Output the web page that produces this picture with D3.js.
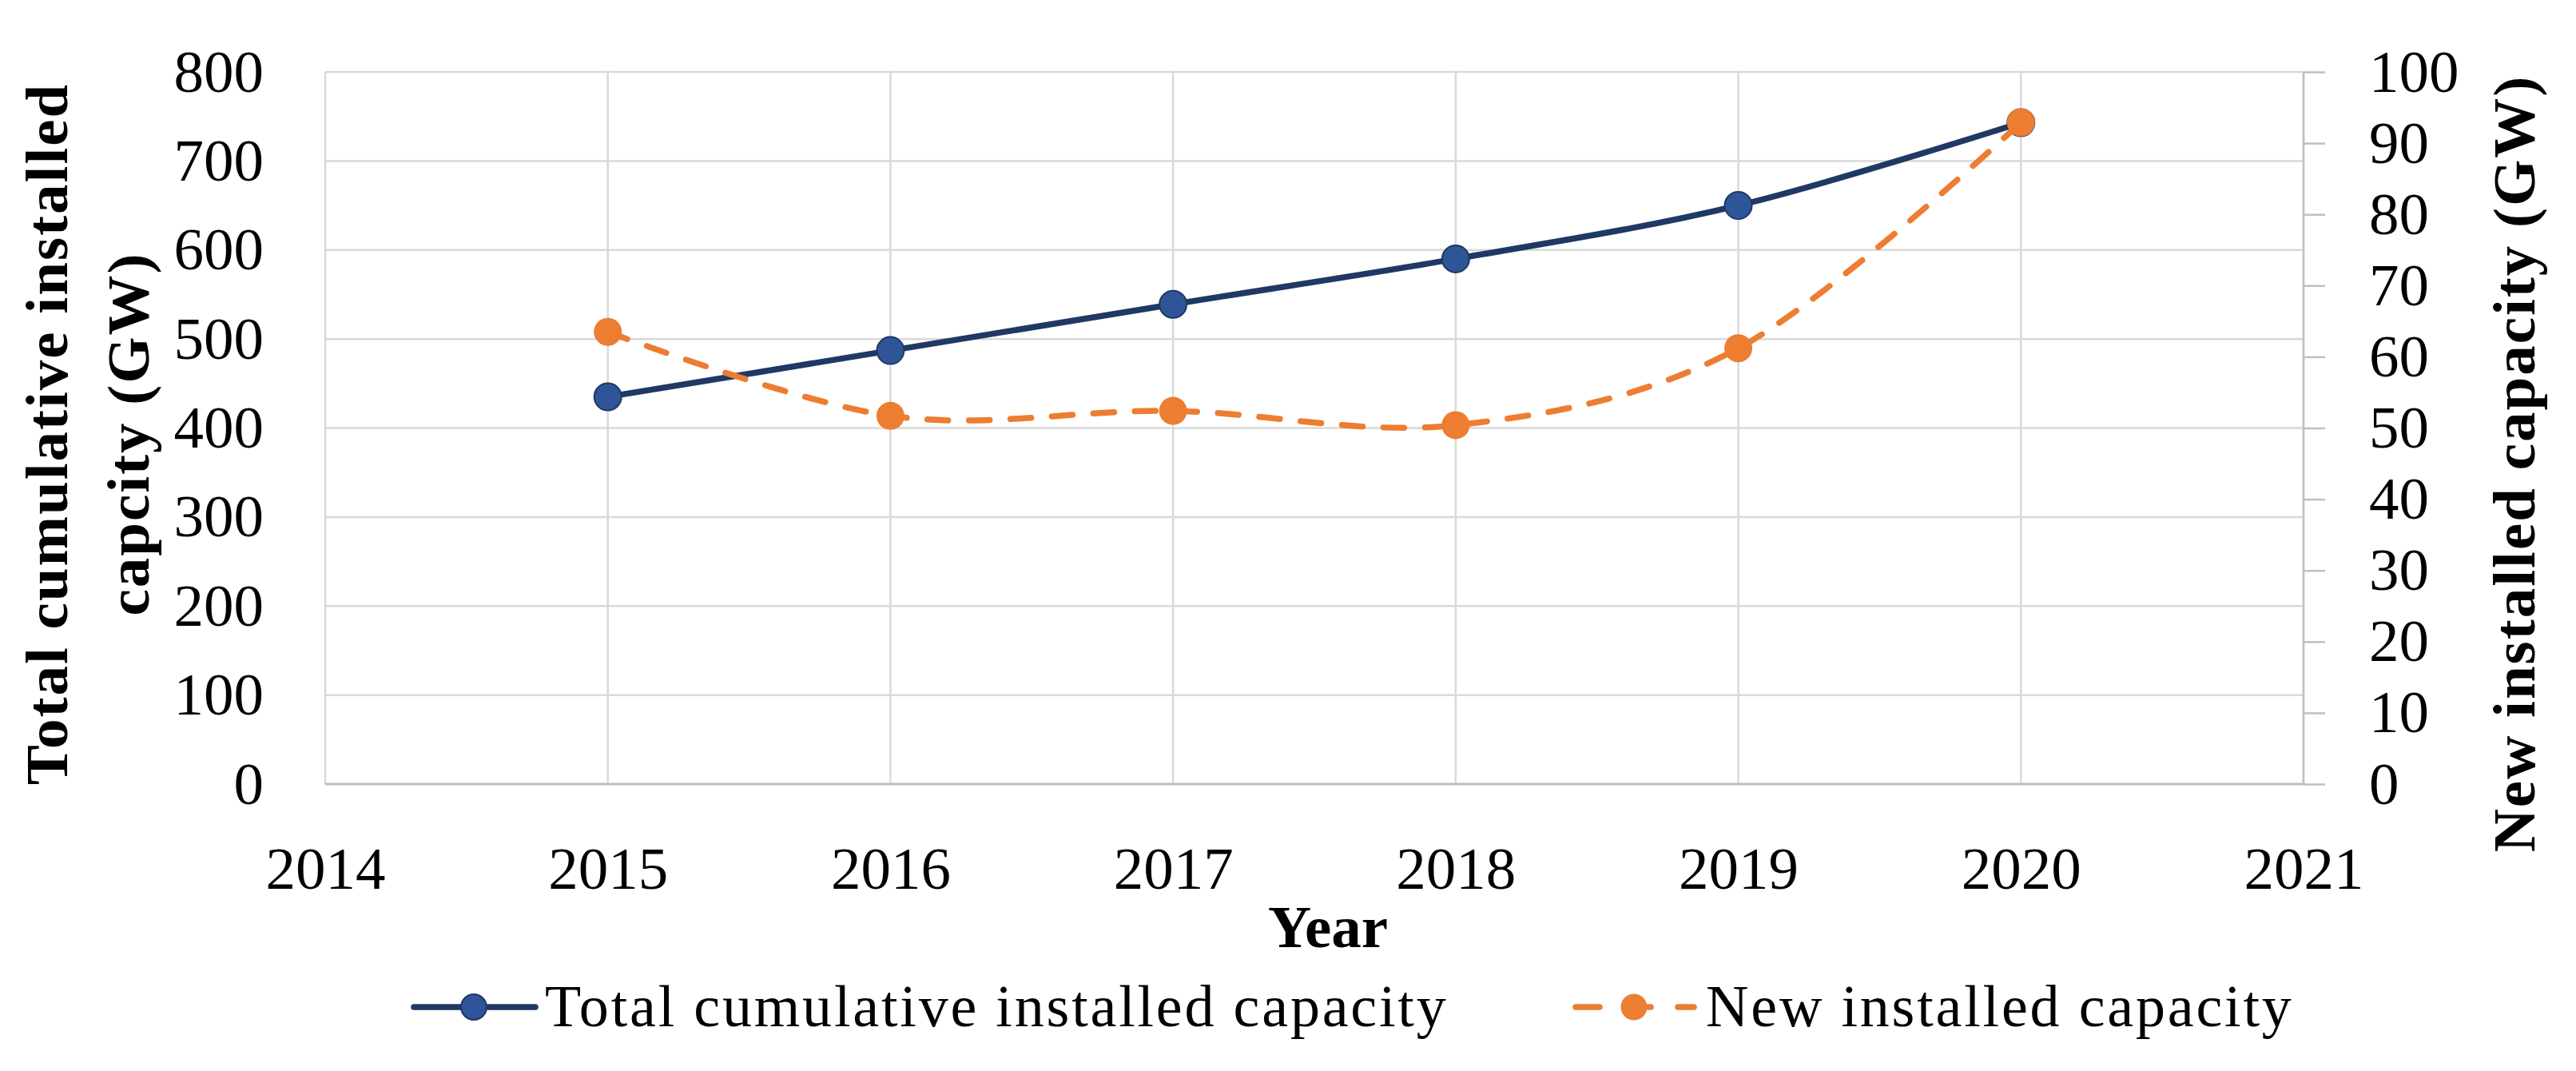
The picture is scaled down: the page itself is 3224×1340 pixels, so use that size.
<!DOCTYPE html>
<html>
<head>
<meta charset="utf-8">
<script src="https://cdn.jsdelivr.net/npm/d3@7"></script>
<style>
  html, body { margin: 0; padding: 0; background: #ffffff; }
  svg { display: block; }
  text { font-family: "Liberation Serif", "Times New Roman", serif; fill: #000; }
</style>
</head>
<body>
<svg id="chart" width="3224" height="1340"></svg>
<script>
// ---- data ----
const years = [2015, 2016, 2017, 2018, 2019, 2020];
const cumulativeGW = [435, 487, 539, 590, 650, 743];
const newGW = [63.5, 51.7, 52.4, 50.4, 61.2, 92.9];
const xTicks = [2014, 2015, 2016, 2017, 2018, 2019, 2020, 2021];
const leftTicks = [0, 100, 200, 300, 400, 500, 600, 700, 800];
const rightTicks = [0, 10, 20, 30, 40, 50, 60, 70, 80, 90, 100];
const seriesNames = ["Total cumulative installed capacity", "New installed capacity"];
const leftTitle = ["Total cumulative installed", "capcity (GW)"];
const rightTitle = "New installed capacity (GW)";
const xTitle = "Year";

// ---- layout ----
const L = 407, R = 2883, T = 90, B = 981;
const FS = 75;
const blueLine = "#203864", blueFill = "#2E5597", orange = "#ED7D31";
const gridCol = "#d9d9d9", axisCol = "#bfbfbf";

const svg = d3.select("#chart");
svg.append("rect").attr("width", 3224).attr("height", 1340).attr("fill", "#fff");

const x = d3.scaleLinear().domain([2014, 2021]).range([L, R]);
const yL = d3.scaleLinear().domain([0, 800]).range([B, T]);
const yR = d3.scaleLinear().domain([0, 100]).range([B, T]);

// gridlines
const grid = svg.append("g");
grid.selectAll("line.h").data(leftTicks).join("line")
  .attr("x1", L).attr("x2", R)
  .attr("y1", d => yL(d)).attr("y2", d => yL(d))
  .attr("stroke", gridCol).attr("stroke-width", 2.5);
grid.selectAll("line.v").data(xTicks).join("line")
  .attr("x1", d => x(d)).attr("x2", d => x(d))
  .attr("y1", T).attr("y2", B)
  .attr("stroke", gridCol).attr("stroke-width", 2.5);
// bottom axis line and right axis line
svg.append("line").attr("x1", L).attr("x2", R).attr("y1", B).attr("y2", B)
  .attr("stroke", axisCol).attr("stroke-width", 3);
svg.append("line").attr("x1", R).attr("x2", R).attr("y1", T).attr("y2", B)
  .attr("stroke", axisCol).attr("stroke-width", 2.5);

// left axis
const gL = svg.append("g").attr("transform", `translate(${L},0)`)
  .call(d3.axisLeft(yL).tickValues(leftTicks).tickSize(0).tickPadding(77));
gL.select(".domain").remove();
gL.selectAll("text").attr("font-size", FS).attr("font-family", "Liberation Serif");

// right axis
const gR = svg.append("g").attr("transform", `translate(${R},0)`)
  .call(d3.axisRight(yR).tickValues(rightTicks).tickSize(27).tickPadding(55));
gR.select(".domain").remove();
gR.selectAll("line").attr("stroke", axisCol).attr("stroke-width", 2.5);
gR.selectAll("text").attr("font-size", FS).attr("font-family", "Liberation Serif");

// bottom axis
const gB = svg.append("g").attr("transform", `translate(0,${B})`)
  .call(d3.axisBottom(x).tickValues(xTicks).tickFormat(d3.format("d")).tickSize(0).tickPadding(78));
gB.select(".domain").remove();
gB.selectAll("text").attr("font-size", FS).attr("font-family", "Liberation Serif");

// axis titles
const titleStyle = sel => sel.attr("font-size", 75).attr("font-weight", "bold")
  .attr("letter-spacing", 2).attr("text-anchor", "middle");
svg.append("text").attr("transform", "translate(84,543) rotate(-90)").text(leftTitle[0]).call(titleStyle);
svg.append("text").attr("transform", "translate(186,543) rotate(-90)").text(leftTitle[1]).call(titleStyle);
svg.append("text").attr("transform", "translate(3172,580) rotate(-90)").text(rightTitle).call(titleStyle);
svg.append("text").attr("x", 1662).attr("y", 1185).text(xTitle).call(titleStyle).attr("letter-spacing", 0);

// lines
const curve = d3.curveCardinal.tension(0);
const lineL = d3.line().x((d, i) => x(years[i])).y(d => yL(d)).curve(curve);
const lineR = d3.line().x((d, i) => x(years[i])).y(d => yR(d)).curve(curve);

svg.append("path").datum(cumulativeGW).attr("d", lineL)
  .attr("fill", "none").attr("stroke", blueLine).attr("stroke-width", 7.5);
svg.selectAll("circle.blue").data(cumulativeGW).join("circle")
  .attr("cx", (d, i) => x(years[i])).attr("cy", d => yL(d)).attr("r", 17)
  .attr("fill", blueFill).attr("stroke", blueLine).attr("stroke-width", 2);

svg.append("path").datum(newGW).attr("d", lineR)
  .attr("fill", "none").attr("stroke", orange).attr("stroke-width", 7.5)
  .attr("stroke-dasharray", "26,26").attr("stroke-linecap", "round");
svg.selectAll("circle.orange").data(newGW).join("circle")
  .attr("cx", (d, i) => x(years[i])).attr("cy", d => yR(d)).attr("r", 17.5)
  .attr("fill", orange);

// legend
const LY = 1260;
const leg = svg.append("g");
leg.append("line").attr("x1", 518).attr("x2", 670).attr("y1", LY).attr("y2", LY)
  .attr("stroke", blueLine).attr("stroke-width", 7.5).attr("stroke-linecap", "round");
leg.append("circle").attr("cx", 593).attr("cy", LY).attr("r", 16)
  .attr("fill", blueFill).attr("stroke", blueLine).attr("stroke-width", 2);
leg.append("text").attr("x", 682).attr("y", LY + 24).attr("font-size", 74)
  .attr("letter-spacing", 2.8).text(seriesNames[0]);

leg.append("line").attr("x1", 1972).attr("x2", 2120).attr("y1", LY).attr("y2", LY)
  .attr("stroke", orange).attr("stroke-width", 7.5).attr("stroke-linecap", "round")
  .attr("stroke-dasharray", "30,34");
leg.append("circle").attr("cx", 2045).attr("cy", LY).attr("r", 16.5).attr("fill", orange);
leg.append("text").attr("x", 2135).attr("y", LY + 24).attr("font-size", 74)
  .attr("letter-spacing", 2.8).text(seriesNames[1]);
</script>
</body>
</html>
